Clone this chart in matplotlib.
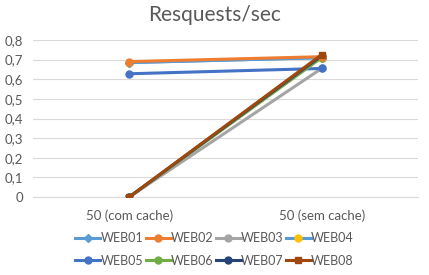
import matplotlib.pyplot as plt
from matplotlib.ticker import FuncFormatter

categories = ['50 (com cache)', '50 (sem cache)']
series_names = ['WEB01', 'WEB02', 'WEB03', 'WEB04', 'WEB05', 'WEB06', 'WEB07', 'WEB08']
web01 = [0.685, 0.71]
web02 = [0.69, 0.715]
web03 = [0.0, 0.655]
web04 = [0.685, 0.71]
web05 = [0.628, 0.655]
web06 = [0.0, 0.71]
web07 = [0.0, 0.72]
web08 = [0.0, 0.725]
values = [web01, web02, web03, web04, web05, web06, web07, web08]

colors = ['#5B9BD5', '#ED7D31', '#A5A5A5', '#5B9BD5', '#4472C4', '#70AD47', '#264478', '#9E480E']
marker_faces = ['#5B9BD5', '#ED7D31', '#A5A5A5', '#FFC000', '#4472C4', '#70AD47', '#264478', '#9E480E']
markers = ['D', 'o', 'o', 'o', 'o', 'o', 'o', 's']
zorders = [2, 3, 2, 1, 2, 2, 2, 3]

plt.rcParams['font.family'] = ['Lato', 'DejaVu Sans']

fig = plt.figure(figsize=(4.29, 2.75), dpi=100)
ax = fig.add_axes([0.077, 0.2836, 0.897, 0.5709])

x = list(range(len(categories)))
handles = []
for name, vals, c, mf, m, z in zip(series_names, values, colors, marker_faces, markers, zorders):
    h, = ax.plot(x, vals, color=c, lw=2.2, marker=m, markersize=5 if m != 'D' else 4.5,
                 markerfacecolor=mf, markeredgecolor=mf, label=name, zorder=z)
    handles.append(h)

ax.set_xlim(-0.5, 1.5)
ax.set_ylim(0, 0.8)
ax.set_yticks([i / 10 for i in range(9)])
ax.yaxis.set_major_formatter(FuncFormatter(lambda v, p: '0' if v == 0 else f'{v:.1f}'.replace('.', ',')))
ax.set_xticks(x)
ax.set_xticklabels(categories)
ax.grid(axis='y', color='#D9D9D9', lw=0.8)
ax.set_axisbelow(True)
for s in ['top', 'right', 'left']:
    ax.spines[s].set_visible(False)
ax.spines['bottom'].set_color('#D9D9D9')
ax.tick_params(length=0, labelsize=9.5, labelcolor='#595959', pad=7)
ax.tick_params(axis='x', pad=9)

fig.text(0.5, 0.945, 'Resquests/sec', ha='center', va='center', fontsize=15, color='#595959')

# legend filled row by row like Excel
order = [0, 4, 1, 5, 2, 6, 3, 7]
fig.legend([handles[i] for i in order], [series_names[i] for i in order],
           loc='center', bbox_to_anchor=(0.5, 0.093), ncol=4, frameon=False,
           fontsize=9, labelcolor='#595959', handlelength=2.0, handletextpad=0.0,
           columnspacing=0.2, labelspacing=0.85, borderpad=0.2)

fig.savefig('out.png', dpi=100)
